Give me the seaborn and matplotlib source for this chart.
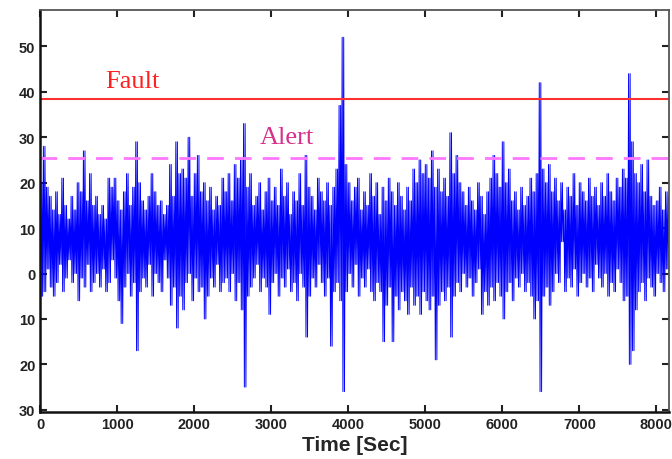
import numpy as np
import pandas as pd
import matplotlib
matplotlib.use('Agg')
import matplotlib.pyplot as plt
import seaborn as sns

# upper and lower envelope of the signal, one pair per 40 s column
highs = [20, 28, 19, 17, 14, 18, 13, 21, 15, 12,
         17, 14, 20, 18, 27, 16, 22, 15, 17, 13,
         15, 12, 21, 19, 21, 16, 14, 18, 22, 15,
         19, 29, 20, 16, 14, 17, 22, 18, 15, 16,
         13, 15, 24, 17, 29, 22, 23, 21, 30, 17,
         22, 26, 18, 20, 16, 19, 14, 17, 15, 21,
         18, 22, 16, 24, 21, 25, 33, 19, 22, 15,
         17, 20, 14, 18, 21, 16, 19, 15, 23, 17,
         20, 13, 18, 16, 22, 15, 26, 19, 17, 14,
         21, 18, 16, 20, 15, 19, 23, 37, 52, 24,
         20, 16, 19, 21, 14, 18, 15, 22, 17, 20,
         13, 19, 16, 21, 18, 15, 20, 17, 14, 19,
         16, 23, 20, 25, 22, 24, 21, 27, 19, 23,
         18, 21, 17, 31, 22, 26, 20, 18, 15, 19,
         16, 14, 20, 17, 13, 18, 21, 26, 22, 19,
         29, 20, 23, 16, 18, 14, 19, 15, 17, 21,
         18, 22, 42, 23, 20, 24, 18, 21, 16, 20,
         14, 19, 17, 22, 15, 20, 18, 16, 21, 17,
         19, 15, 20, 17, 22, 18, 16, 21, 19, 23,
         21, 44, 29, 22, 20, 24, 18, 25, 17, 15,
         16, 19, 14, 18, 17]

lows = [-5, -4, 1, -3, -5, -2, 2, -4, -1, 3,
        -2, 0, -6, -1, -3, 2, -4, -2, 0, -3,
        1, -4, -2, 3, -1, -6, -11, -3, 0, -5,
        -2, -17, -4, -1, -3, 2, -5, 0, -2, -4,
        3, -1, -7, -3, -12, -5, -8, -2, 0, -6,
        -1, -4, -3, -10, -5, -1, -3, 2, -4, -2,
        -1, -4, 0, -6, -2, -8, -25, -5, -3, -1,
        2, -4, -1, -3, -9, -2, 0, -5, -1, -3,
        1, -4, -2, -6, 0, -3, -14, -5, -1, -3,
        2, -2, -5, -1, -16, -4, -2, -6, -26, -4,
        0, -3, 2, -5, -1, -3, 1, -4, -6, -2,
        -4, -15, -7, -3, -15, -5, -8, -4, -6, -9,
        -3, -7, -5, -9, -4, -6, -8, -5, -19, -7,
        -4, -6, -3, -14, -5, -2, -4, 0, -3, -1,
        -5, -2, 1, -9, -4, -7, -3, -6, -2, -5,
        -10, -4, -2, -6, -1, -3, 0, -4, -2, -5,
        -10, -6, -26, -5, -3, -7, -4, 0, -2, 7,
        -4, -1, -3, 1, -5, -2, 0, -3, -1, -4,
        2, -1, -3, 0, -5, -2, -4, 1, -2, -6,
        -5, -20, -17, -8, -4, -2, -6, -1, -3, -5,
        0, -2, -4, 1, -3]

fault_level = 38.5
alert_level = 25.5
xticks = [0, 1000, 2000, 3000, 4000, 5000, 6000, 7000, 8000]
yticks = [-30, -20, -10, 0, 10, 20, 30, 40, 50]
ytick_labels = ['30', '20', '10', '0', '10', '20', '30', '40', '50']

# each 40 s column swings twice between its high and low (10 s samples)
signal = np.column_stack([highs, lows, highs, lows]).ravel()
time = np.arange(len(signal)) * 10
df = pd.DataFrame({'Time': time, 'Value': signal})

sns.set_style('ticks')
plt.rcParams['font.family'] = ['Liberation Sans', 'DejaVu Sans']

fig = plt.figure(figsize=(6.72, 4.6), dpi=100)
ax = fig.add_axes([0.06, 0.102, 0.935, 0.874])

sns.lineplot(data=df, x='Time', y='Value', color='#0000ff', linewidth=0.7, ax=ax)

ax.axhline(fault_level, color='#ff3030', linewidth=1.5)
ax.axhline(alert_level, color='#ff77ff', linewidth=2, linestyle=(0, (6, 4)))
ax.text(1200, 42.4, 'Fault', color='#ff2020', fontsize=19,
        family='Liberation Serif', ha='center', va='center')
ax.text(3200, 30.0, 'Alert', color='#d8308a', fontsize=19,
        family='Liberation Serif', ha='center', va='center')

ax.set_xlim(0, 8160)
ax.set_ylim(-30.5, 58)
ax.set_xticks(xticks)
ax.set_yticks(yticks)
ax.set_yticklabels(ytick_labels)
ax.tick_params(direction='in', length=5, width=1.5, top=True, right=True,
               labelsize=10.5, colors='#222222')
for lab in ax.get_xticklabels() + ax.get_yticklabels():
    lab.set_fontweight('bold')
ax.set_xlabel('Time [Sec]', fontsize=15, fontweight='bold', labelpad=3)
ax.set_ylabel('')

for side in ['left', 'bottom']:
    ax.spines[side].set_linewidth(1.8)
    ax.spines[side].set_color('#111111')
for side in ['top', 'right']:
    ax.spines[side].set_linewidth(1.3)
    ax.spines[side].set_color('#555555')

fig.savefig('out.png', dpi=100)
